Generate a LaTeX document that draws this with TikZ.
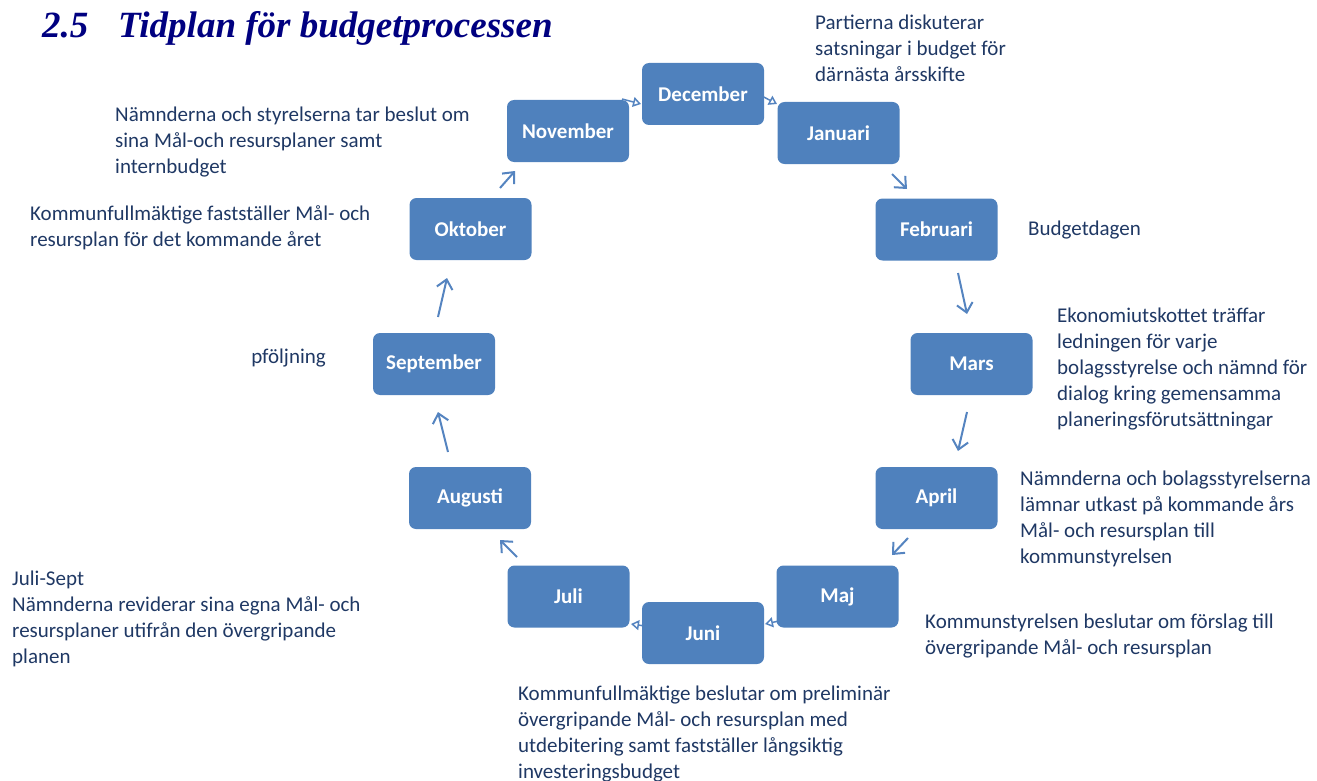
\documentclass[tikz,border=0pt]{standalone}
\usepackage{fontspec}
\setmainfont{Carlito}
\newfontfamily\titlefont{Liberation Serif}
\usetikzlibrary{arrows.meta,backgrounds}
\definecolor{boxblue}{HTML}{4F81BD}
\definecolor{arrblue}{HTML}{5584C0}
\definecolor{txtblue}{HTML}{1F3864}
\definecolor{titleblue}{HTML}{000080}
\tikzset{
  month/.style={fill=boxblue, rounded corners=7pt, minimum width=122pt, minimum height=62pt,
    inner sep=0pt, text=white, font=\fontsize{21}{25}\selectfont\bfseries},
  note/.style={anchor=north west, align=left, inner sep=0pt, text=txtblue,
    font=\fontsize{21}{26}\selectfont},
  arr/.style={draw=arrblue, line width=2pt, -{Straight Barb[length=9pt,width=16pt]}},
  smallarr/.style={draw=arrblue, line width=1.5pt, -{Triangle[open,length=8pt,width=10pt,fill=white]}},
}
\begin{document}
\begin{tikzpicture}[x=1pt,y=-1pt]
\useasboundingbox (0,0) rectangle (1317,781);
% title
\node[anchor=base west, inner sep=0pt, text=titleblue, font=\titlefont\fontsize{37}{40}\selectfont\bfseries\itshape] (tnum) at (42,38) {2.5};
\node[anchor=base west, inner sep=0pt, text=titleblue, font=\titlefont\fontsize{37}{40}\selectfont\bfseries\itshape] (ttext) at (118,38) {Tidplan för budgetprocessen};
% months
\node[month] (dec) at (703,94) {December};
\node[month] (nov) at (568,131) {November};
\node[month] (jan) at (838.5,133) {Januari};
\node[month] (feb) at (936.5,229.5) {Februari};
\node[month] (mar) at (971.5,364) {Mars};
\node[month] (apr) at (936.5,498) {April};
\node[month] (maj) at (837.5,596.5) {Maj};
\node[month] (jun) at (703,633) {Juni};
\node[month] (jul) at (568.5,596.5) {Juli};
\node[month] (aug) at (470,498) {Augusti};
\node[month] (sep) at (434,364) {September};
\node[month] (okt) at (470.5,229) {Oktober};
% connectors
\begin{pgfonlayer}{background}
\draw[smallarr] ([shift={(54,-32)}]nov.center) -- ([shift={(-62,10)}]dec.center);
\draw[smallarr] ([shift={(57,1)}]dec.center) -- ([shift={(-61.5,-29)}]jan.center);
\draw[smallarr] ([shift={(-58.5,24.5)}]maj.center) -- ([shift={(62,-9)}]jun.center);
\draw[smallarr] ([shift={(-58,-7)}]jun.center) -- ([shift={(62.5,27.5)}]jul.center);
\end{pgfonlayer}
\draw[arr] ([shift={(29.5,-41)}]okt.center) -- ([shift={(-53,40)}]nov.center);
\draw[arr] ([shift={(53.5,41)}]jan.center) -- ([shift={(-29.5,-40.5)}]feb.center);
\draw[arr] ([shift={(21.5,43.5)}]feb.center) -- ([shift={(-4.5,-50)}]mar.center);
\draw[arr] ([shift={(-4.5,48)}]mar.center) -- ([shift={(21.5,-47)}]apr.center);
\draw[arr] ([shift={(-28.5,40)}]apr.center) -- ([shift={(54.5,-41.5)}]maj.center);
\draw[arr] ([shift={(-51.5,-39.5)}]jul.center) -- ([shift={(30,42)}]aug.center);
\draw[arr] ([shift={(-22,-46)}]aug.center) -- ([shift={(4,48)}]sep.center);
\draw[arr] ([shift={(4,-47)}]sep.center) -- ([shift={(-23.5,49)}]okt.center);
% notes
\node[note] (n1) at (815,10.8) {\strut Partierna diskuterar\\satsningar i budget för\\därnästa årsskifte};
\node[note] (n2) at (1028,216.8) {\strut Budgetdagen};
\node[note] (n3) at (1057,303.8) {\strut Ekonomiutskottet träffar\\ledningen för varje\\bolagsstyrelse och nämnd för\\dialog kring gemensamma\\planeringsförutsättningar};
\node[note] (n4) at (1020,466.8) {\strut Nämnderna och bolagsstyrelserna\\lämnar utkast på kommande års\\Mål- och resursplan till\\kommunstyrelsen};
\node[note] (n5) at (925,609.8) {\strut Kommunstyrelsen beslutar om förslag till\\övergripande Mål- och resursplan};
\node[note] (n6) at (518,681.8) {\strut Kommunfullmäktige beslutar om preliminär\\övergripande Mål- och resursplan med\\utdebitering samt fastställer långsiktig\\investeringsbudget};
\node[note] (n7) at (12,566.8) {\strut Juli-Sept\\Nämnderna reviderar sina egna Mål- och\\resursplaner utifrån den övergripande\\planen};
\node[note, anchor=base east] (n8) at (326,363) {pföljning};
\node[note] (n9) at (115,102.8) {\strut Nämnderna och styrelserna tar beslut om\\sina Mål-och resursplaner samt\\internbudget};
\node[note] (n10) at (30,201.8) {\strut Kommunfullmäktige fastställer Mål- och\\resursplan för det kommande året};
\end{tikzpicture}
\end{document}
